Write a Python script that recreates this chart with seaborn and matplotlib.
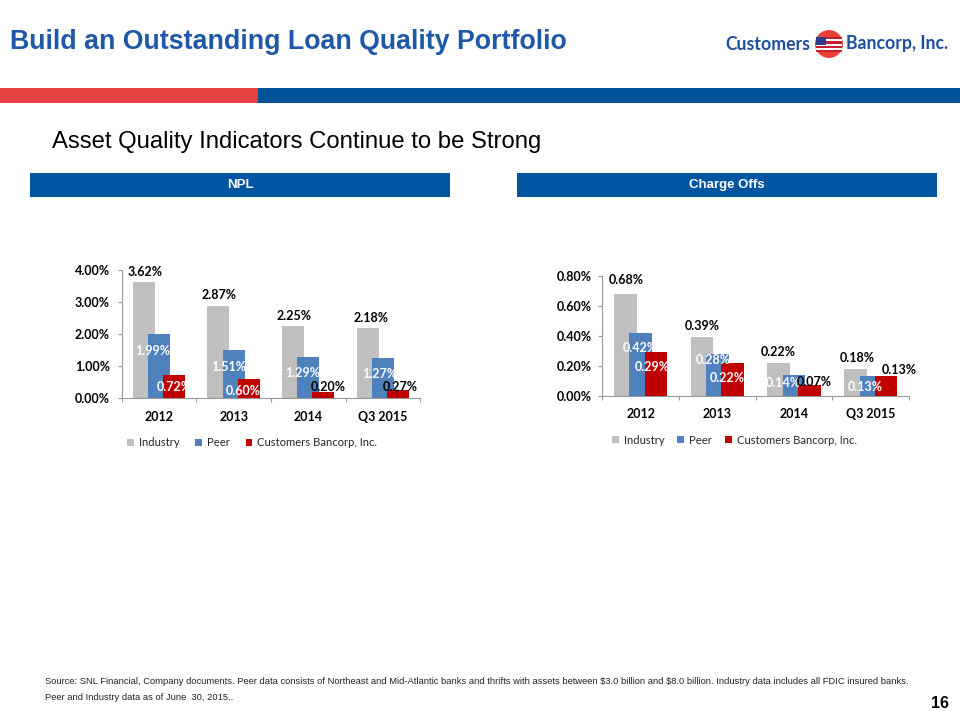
import numpy as np
import pandas as pd
import matplotlib
matplotlib.use("Agg")
import matplotlib.pyplot as plt
import seaborn as sns
from matplotlib.patches import Rectangle, Ellipse

# ---------------- data ----------------
categories = ["2012", "2013", "2014", "Q3 2015"]
series = ["Industry", "Peer", "Customers Bancorp, Inc."]
npl_industry = [3.62, 2.87, 2.25, 2.18]
npl_peer = [1.99, 1.51, 1.29, 1.27]
npl_cubi = [0.72, 0.60, 0.20, 0.27]
co_industry = [0.68, 0.39, 0.22, 0.18]
co_peer = [0.42, 0.28, 0.14, 0.13]
co_cubi = [0.29, 0.22, 0.07, 0.13]
npl_ticks = [0, 1, 2, 3, 4]
co_ticks = [0.0, 0.2, 0.4, 0.6, 0.8]

# ---------------- style ----------------
colors = ["#BFBFBF", "#4F81BD", "#C00000"]
W, H = 960, 720
sns.set_theme(style="white")
plt.rcParams["font.family"] = ["Lato", "DejaVu Sans"]

fig = plt.figure(figsize=(W / 100, H / 100), dpi=100)
fig.patch.set_facecolor("white")


def fx(x):
    return x / W


def fy(y):
    return 1 - y / H


def rect(x0, y0, x1, y1, color, z=1):
    fig.add_artist(Rectangle((fx(x0), fy(y1)), (x1 - x0) / W, (y1 - y0) / H,
                             transform=fig.transFigure, facecolor=color,
                             edgecolor="none", zorder=z))


ARIAL = ["Liberation Sans", "DejaVu Sans"]

# ---------------- header ----------------
fig.text(fx(10), fy(42), "Build an Outstanding Loan Quality Portfolio",
         family=ARIAL, weight="bold", fontsize=19.3,
         color="#1F58A6", ha="left", va="center")

logo_blue = "#1B4F9C"
fig.text(fx(810), fy(44), "Customers", family=["Lato", "DejaVu Sans"],
         weight="bold", fontsize=12.7, color=logo_blue, ha="right", va="center")
fig.text(fx(846), fy(44), "Bancorp, Inc.", family=["Lato", "DejaVu Sans"],
         weight="bold", fontsize=12.7, color=logo_blue, ha="left", va="center")
fig.add_artist(Ellipse((fx(829), fy(44)), 28 / W, 28 / H, transform=fig.transFigure,
                       facecolor="#E8413C", edgecolor="none", zorder=2))
# small flag
for i in range(7):
    rect(816, 37 + i * 2.2, 842, 37 + (i + 1) * 2.2,
         "#C8202F" if i % 2 == 0 else "white", z=3)
rect(816, 37, 826, 45, "#2B3E8C", z=4)

rect(0, 88, 258, 103, "#E84142")
rect(258, 88, 960, 103, "#00539B")

fig.text(fx(52), fy(142), "Asset Quality Indicators Continue to be Strong",
         family=ARIAL, fontsize=17.2,
         color="black", ha="left", va="center")

box_blue = "#0055A0"
rect(30, 173, 450, 197, box_blue)
rect(517, 173, 937, 197, box_blue)
fig.text(fx(240), fy(185), "NPL", family=ARIAL,
         weight="bold", fontsize=9.5, color="white", ha="center", va="center")
fig.text(fx(727), fy(185), "Charge Offs", family=ARIAL,
         weight="bold", fontsize=9.5, color="white", ha="center", va="center")

# ---------------- footer ----------------
fig.text(fx(45), fy(682),
         "Source: SNL Financial, Company documents. Peer data consists of Northeast and "
         "Mid-Atlantic banks and thrifts with assets between \\$3.0 billion and \\$8.0 billion. "
         "Industry data includes all FDIC insured banks.",
         family=ARIAL, fontsize=6.75, color="#222222",
         ha="left", va="center")
fig.text(fx(45), fy(697), "Peer and Industry data as of June  30, 2015..",
         family=ARIAL, fontsize=6.75, color="#222222",
         ha="left", va="center")
fig.text(fx(949), fy(703), "16", family=ARIAL,
         weight="bold", fontsize=11.5, color="black", ha="right", va="center")


# ---------------- charts ----------------
def panel(x0, x1, ytop, ybot, ymax, ticks, ind, peer, cubi, group_w, bar_w,
          lab, tick_pad_y, tick_pad_x):
    ax = fig.add_axes([fx(x0), fy(ybot), (x1 - x0) / W, (ybot - ytop) / H])
    df = pd.DataFrame({
        "Period": categories * 3,
        "Series": np.repeat(series, len(categories)),
        "Value": list(ind) + list(peer) + list(cubi),
    })
    sns.barplot(data=df, x="Period", y="Value", hue="Series", order=categories,
                hue_order=series, palette=colors, saturation=1, width=group_w,
                errorbar=None, legend=False, linewidth=0, ax=ax)
    ax.set_xlim(-0.5, 3.5)
    ax.set_ylim(0, ymax)
    ax.set_facecolor("none")
    for si, cont in enumerate(ax.containers):
        dxs, dys, cols = lab[si]
        for bi, p in enumerate(cont.patches):
            c = p.get_x() + p.get_width() / 2
            p.set_width(bar_w)
            p.set_x(c - bar_w / 2)
            p.set_zorder(2 + si)
            p.set_linewidth(0)
            v = p.get_height()
            ax.annotate(f"{v:.2f}%", xy=(c, v), xytext=(dxs[bi], dys[bi]),
                        textcoords="offset pixels", ha="center", va="center",
                        fontsize=9, weight="bold", color=cols[bi],
                        zorder=10, annotation_clip=False)
    for s in ["top", "right"]:
        ax.spines[s].set_visible(False)
    for s in ["left", "bottom"]:
        ax.spines[s].set_color("#9A9A9A")
        ax.spines[s].set_linewidth(0.8)
    ax.set_yticks(ticks)
    ax.set_yticklabels([f"{t:.2f}%" for t in ticks])
    ax.set_xticks(range(len(categories)))
    ax.set_xticklabels(categories)
    ax.set_xticks([-0.5, 0.5, 1.5, 2.5, 3.5], minor=True)
    ax.tick_params(axis="x", which="major", length=0, pad=tick_pad_x,
                   labelsize=9, labelcolor="black")
    ax.tick_params(axis="x", which="minor", bottom=True, length=3,
                   width=0.8, color="#9A9A9A", direction="out")
    ax.tick_params(axis="y", which="major", left=True, length=3, width=0.8,
                   color="#9A9A9A", direction="out", pad=tick_pad_y,
                   labelsize=9, labelcolor="black")
    for t in ax.get_xticklabels() + ax.get_yticklabels():
        t.set_fontweight("bold")
    ax.set_xlabel("")
    ax.set_ylabel("")
    return ax


W_, K_ = "white", "black"
npl_lab = [
    ([1.5, 1, 1.5, 4], [10, 11, 10.5, 10], [K_] * 4),
    ([-6, -4.5, -6, -3], [-17, -17, -16, -16.5], [W_] * 4),
    ([0, -6, 5, 2], [-12, -12, 4.5, 2.5], [W_, W_, K_, K_]),
]
co_lab = [
    ([1, 0, 0, 1.5], [13.5, 11, 11, 10.4], [K_] * 4),
    ([0, -4, -11, -6], [-15, -6.3, -8.6, -11], [W_] * 4),
    ([-4, -5, 5, 13], [-14.5, -15.3, 3, 6], [W_, W_, K_, K_]),
]

panel(121.7, 420.1, 270.0, 398.3, 4.0, npl_ticks,
      npl_industry, npl_peer, npl_cubi, 0.615, 0.295, npl_lab, 5.5, 9.5)
panel(602.3, 909.1, 275.7, 395.7, 0.8, co_ticks,
      co_industry, co_peer, co_cubi, 0.60, 0.293, co_lab, 4.5, 8.5)

handles = [Rectangle((0, 0), 1, 1, facecolor=c, edgecolor="none") for c in colors]
for (lx, ly, cs) in [(127, 443, 1.4), (612, 440, 1.15)]:
    fig.legend(handles, series, loc="center left",
               bbox_to_anchor=(fx(lx), fy(ly)), bbox_transform=fig.transFigure,
               ncol=3, frameon=False, fontsize=8.1, handlelength=0.6,
               handleheight=0.6, handletextpad=0.45, columnspacing=cs,
               borderaxespad=0, borderpad=0)

fig.savefig("out.png", dpi=100, facecolor="white")
